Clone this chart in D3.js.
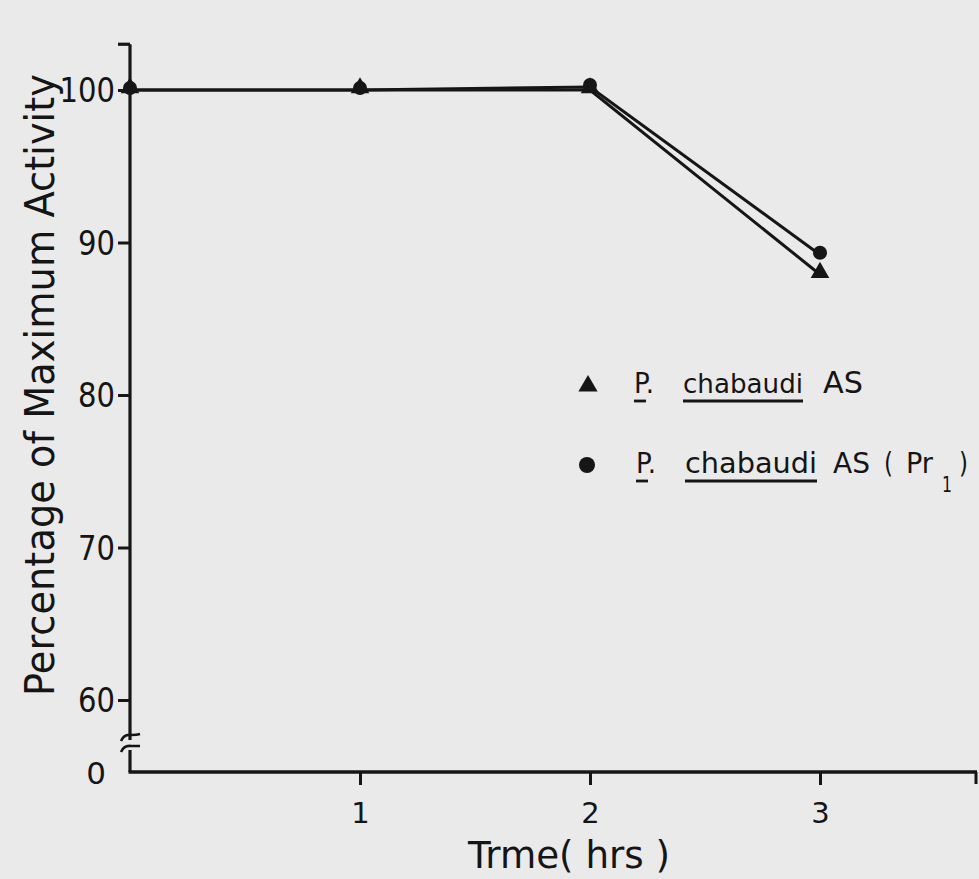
<!DOCTYPE html>
<html>
<head>
<meta charset="utf-8">
<script src="https://cdn.jsdelivr.net/npm/d3@7"></script>
<style>
  html, body { margin: 0; padding: 0; background: #eaeaea; }
  svg { display: block; }
  text { font-family: "DejaVu Sans", sans-serif; fill: #151515; }
</style>
</head>
<body>
<svg id="chart" width="979" height="879"></svg>
<script>
// Time points (hours)
const times = [0, 1, 2, 3];
// Percentage of maximum activity for each strain
const seriesAS = [100, 100, 100, 87.9];
const seriesPr1 = [100, 100, 100.2, 89.2];
// Axis ticks
const xTicks = [1, 2, 3];
const yTicks = [60, 70, 80, 90, 100];

const svg = d3.select("#chart");
const ink = "#161616";

svg.append("rect").attr("width", 979).attr("height", 879).attr("fill", "#eaeaea");

const x = d3.scaleLinear().domain([0, 3]).range([130, 820]);
const y = d3.scaleLinear().domain([60, 100]).range([700, 90]);
const axisBase = 772;   // y position of the time axis (value 0 after the break)
const axisRight = 977;
const yTop = y(103);

// Y axis: line with a break between 60 and 0
const yAxisLine = svg.append("g").attr("stroke", ink).attr("stroke-width", 3.2).attr("fill", "none");
yAxisLine.append("line").attr("x1", x(0)).attr("x2", x(0)).attr("y1", yTop).attr("y2", 740);
yAxisLine.append("line").attr("x1", x(0)).attr("x2", x(0)).attr("y1", 750).attr("y2", axisBase);
yAxisLine.append("path").attr("d", `M${x(0)-9},741 q3,-7 10,-6 q6,0 9,-1`).attr("stroke-width", 2.6);
yAxisLine.append("path").attr("d", `M${x(0)-9},752 q3,-7 10,-6 q6,0 9,0`).attr("stroke-width", 2.6);
// top tick of the y axis
yAxisLine.append("line").attr("x1", x(0) - 12).attr("x2", x(0)).attr("y1", yTop).attr("y2", yTop);

const yAxis = svg.append("g")
  .attr("transform", `translate(${x(0)},0)`)
  .call(d3.axisLeft(y).tickValues(yTicks).tickSize(12).tickPadding(3));
yAxis.select(".domain").remove();
yAxis.selectAll(".tick line").attr("stroke", ink).attr("stroke-width", 3);
yAxis.selectAll(".tick text").attr("font-size", 33).attr("fill", ink)
  .attr("font-family", "DejaVu Sans, sans-serif").attr("dy", "0.36em")
  .attr("textLength", d => String(d).length * 18.5).attr("lengthAdjust", "spacingAndGlyphs");

// "0" at the foot of the y axis
svg.append("text").attr("x", 96).attr("y", axisBase + 12).attr("text-anchor", "middle")
  .attr("font-size", 31).text("0");

// X axis
const xAxis = svg.append("g")
  .attr("transform", `translate(0,${axisBase})`)
  .call(d3.axisBottom(x).tickValues(xTicks).tickSize(13).tickPadding(17).tickFormat(d3.format("d")));
xAxis.select(".domain").remove();
xAxis.selectAll(".tick line").attr("stroke", ink).attr("stroke-width", 3);
xAxis.selectAll(".tick text").attr("font-size", 29).attr("fill", ink)
  .attr("font-family", "DejaVu Sans, sans-serif");
svg.append("line").attr("x1", x(0) - 1.5).attr("x2", axisRight).attr("y1", axisBase).attr("y2", axisBase)
  .attr("stroke", ink).attr("stroke-width", 3.4);
svg.append("line").attr("x1", axisRight - 1).attr("x2", axisRight - 1).attr("y1", axisBase).attr("y2", axisBase + 12)
  .attr("stroke", ink).attr("stroke-width", 3);

// Axis titles
svg.append("text").attr("x", 569).attr("y", 868).attr("text-anchor", "middle")
  .attr("font-size", 37).attr("textLength", 202).attr("lengthAdjust", "spacingAndGlyphs")
  .text("Trme( hrs )");
svg.append("text").attr("transform", "translate(54,385) rotate(-90)").attr("text-anchor", "middle")
  .attr("font-size", 41).attr("textLength", 622).attr("lengthAdjust", "spacingAndGlyphs")
  .text("Percentage of Maximum Activity");

// Lines
const line = d3.line().x((d, i) => x(times[i])).y(d => y(d));
svg.append("path").datum(seriesAS).attr("d", line).attr("fill", "none")
  .attr("stroke", ink).attr("stroke-width", 3);
svg.append("path").datum(seriesPr1).attr("d", line).attr("fill", "none")
  .attr("stroke", ink).attr("stroke-width", 3);

// Markers
const tri = d3.symbol().type(d3.symbolTriangle).size(150);
svg.append("g").selectAll("path").data(seriesAS).join("path")
  .attr("d", tri)
  .attr("transform", (d, i) => `translate(${x(times[i])},${y(d) - 2})`)
  .attr("fill", ink);
svg.append("g").selectAll("circle").data(seriesPr1).join("circle")
  .attr("cx", (d, i) => x(times[i])).attr("cy", d => y(d) - 2).attr("r", 7)
  .attr("fill", ink);

// Legend
const legend = svg.append("g");
legend.append("path").attr("d", d3.symbol().type(d3.symbolTriangle).size(160))
  .attr("transform", "translate(588,386)").attr("fill", ink);
legend.append("circle").attr("cx", 587).attr("cy", 465).attr("r", 8).attr("fill", ink);

// word: text, left x, width, underline length (0 = none), font size
function word(yBase, s, x0, w, u, size) {
  legend.append("text").attr("x", x0).attr("y", yBase).attr("font-size", size)
    .attr("textLength", w).attr("lengthAdjust", "spacingAndGlyphs").text(s);
  if (u) {
    legend.append("line").attr("x1", x0).attr("x2", x0 + u)
      .attr("y1", yBase + 8).attr("y2", yBase + 8)
      .attr("stroke", ink).attr("stroke-width", 2.8);
  }
}
// row 1
word(393, "P.", 634, 20, 12, 28);
word(393, "chabaudi", 683, 120, 120, 26);
word(393, "AS", 823, 40, 0, 30);
// row 2
word(473, "P.", 636, 20, 12, 28);
word(473, "chabaudi", 685, 132, 132, 28);
word(473, "AS", 833, 37, 0, 28);
word(473, "(", 884, 9, 0, 28);
word(473, "Pr", 906, 27, 0, 28);
word(492, "1", 942, 10, 0, 22);
word(473, ")", 959, 9, 0, 28);
</script>
</body>
</html>
